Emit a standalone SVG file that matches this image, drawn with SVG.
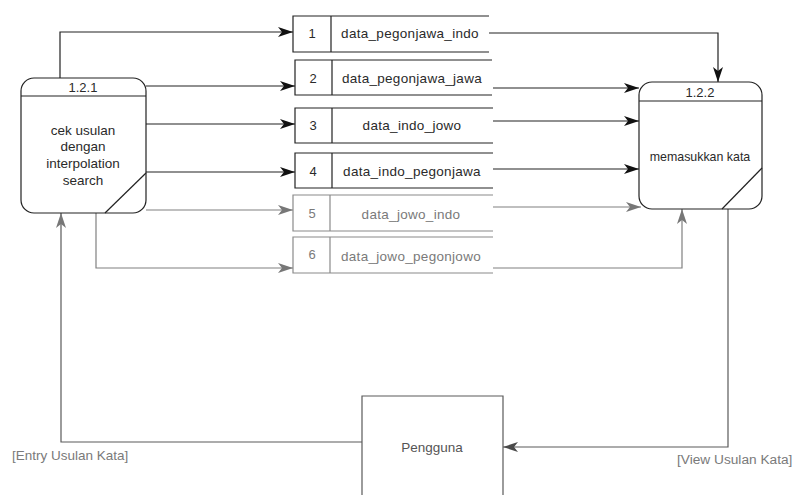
<svg xmlns="http://www.w3.org/2000/svg" width="796" height="495" viewBox="0 0 796 495">
<defs>
<style>
text{font-family:"Liberation Sans",Arial,sans-serif;fill:#2a2a2a}
.proc{fill:#fff;stroke:#222;stroke-width:1.2}
.ln{fill:none;stroke:#222;stroke-width:1.2}
.lg{fill:none;stroke:#808080;stroke-width:1.2}
.lg2{fill:none;stroke:#5a5a5a;stroke-width:1.2}
.st{fill:none;stroke:#222;stroke-width:1.2}
.stg{fill:none;stroke:#8a8a8a;stroke-width:1.2}
.sl{font-size:13.5px;letter-spacing:0.3px}
.gt{fill:#7a7a7a}
.c{text-anchor:middle}
</style>
<marker id="ab" markerUnits="userSpaceOnUse" markerWidth="18" markerHeight="12" refX="15" refY="5" orient="auto"><path d="M0,0 L15,5 L0,10 L4,5 Z" fill="#111"/></marker>
<marker id="ag" markerUnits="userSpaceOnUse" markerWidth="18" markerHeight="12" refX="15" refY="5" orient="auto"><path d="M0,0 L15,5 L0,10 L4,5 Z" fill="#777"/></marker>
<marker id="ad" markerUnits="userSpaceOnUse" markerWidth="18" markerHeight="12" refX="15" refY="5" orient="auto"><path d="M0,0 L15,5 L0,10 L4,5 Z" fill="#4a4a4a"/></marker>
</defs>
<rect width="796" height="495" fill="#fff"/>

<g id="connectors">
<polyline class="ln" points="60,78 60,32 293,32" marker-end="url(#ab)"/>
<polyline class="ln" points="146,86 295,86" marker-end="url(#ab)"/>
<polyline class="ln" points="146,124 295,124" marker-end="url(#ab)"/>
<polyline class="ln" points="146,172 295,172" marker-end="url(#ab)"/>
<polyline class="lg" points="146,210 293,210" marker-end="url(#ag)"/>
<polyline class="lg" points="96,213 96,268 293,268" marker-end="url(#ag)"/>
<polyline class="ln" points="489,33 718,33 718,82" marker-end="url(#ab)"/>
<polyline class="ln" points="493,88 639,88" marker-end="url(#ab)"/>
<polyline class="ln" points="493,121 639,121" marker-end="url(#ab)"/>
<polyline class="ln" points="493,169 639,169" marker-end="url(#ab)"/>
<polyline class="lg" points="493,207 641,207" marker-end="url(#ag)"/>
<polyline class="lg" points="493,268 682,268 682,209" marker-end="url(#ag)"/>
<polyline class="lg2" points="728,209 728,447 503,447" marker-end="url(#ad)"/>
<polyline class="lg2" points="362,442 61,442 61,213" marker-end="url(#ag)"/>
<text x="12" y="460" style="font-size:13.5px" class="gt">[Entry Usulan Kata]</text>
<text x="677" y="464" style="font-size:13.7px" class="gt">[View Usulan Kata]</text>
</g>

<g id="p121">
<rect class="proc" x="21" y="78" width="125" height="135" rx="13"/>
<line class="ln" x1="21" y1="96" x2="146" y2="96"/>
<line class="ln" x1="146" y1="173" x2="105" y2="213"/>
<text x="83" y="92" class="c" style="font-size:13px">1.2.1</text>
<text x="83" y="135" class="c" style="font-size:13.5px">cek usulan</text>
<text x="83" y="151" class="c" style="font-size:13.5px">dengan</text>
<text x="83" y="168" class="c" style="font-size:13.5px">interpolation</text>
<text x="83" y="185" class="c" style="font-size:13.5px">search</text>
</g>

<g id="p122">
<rect class="proc" x="639" y="82" width="123" height="127" rx="13"/>
<line class="ln" x1="639" y1="101" x2="762" y2="101"/>
<line class="ln" x1="762" y1="168" x2="722" y2="209"/>
<text x="700" y="97" class="c" style="font-size:13px">1.2.2</text>
<text x="700" y="161" class="c" style="font-size:12.4px">memasukkan kata</text>
</g>

<g id="ds1">
<path class="st" d="M489,16 H293 V52 H489 M331,16 V52"/>
<text x="312" y="38" class="c" style="font-size:13px">1</text>
<text x="410" y="38" class="c sl">data_pegonjawa_indo</text>
</g>
<g id="ds2">
<path class="st" d="M492,60 H295 V95 H492 M332,60 V95"/>
<text x="313" y="83" class="c" style="font-size:13px">2</text>
<text x="412" y="83" class="c sl">data_pegonjawa_jawa</text>
</g>
<g id="ds3">
<path class="st" d="M493,108 H295 V143 H493 M332,108 V143"/>
<text x="313" y="130" class="c" style="font-size:13px">3</text>
<text x="412" y="130" class="c sl">data_indo_jowo</text>
</g>
<g id="ds4">
<path class="st" d="M493,153 H295 V188 H493 M332,153 V188"/>
<text x="313" y="176" class="c" style="font-size:13px">4</text>
<text x="412" y="176" class="c sl">data_indo_pegonjawa</text>
</g>
<g id="ds5">
<path class="stg" d="M493,195 H293 V231 H493 M330,195 V231"/>
<text x="312" y="218" class="c gt" style="font-size:13px">5</text>
<text x="411" y="219" class="c sl gt">data_jowo_indo</text>
</g>
<g id="ds6">
<path class="stg" d="M493,237 H293 V273 H493 M330,237 V273"/>
<text x="312" y="259" class="c gt" style="font-size:13px">6</text>
<text x="411" y="261" class="c sl gt">data_jowo_pegonjowo</text>
</g>

<g id="pengguna">
<path class="lg2" d="M362,497 V396 H503 V497"/>
<text x="432" y="452" class="c gt" style="font-size:13.5px;fill:#555">Pengguna</text>
</g>
</svg>
